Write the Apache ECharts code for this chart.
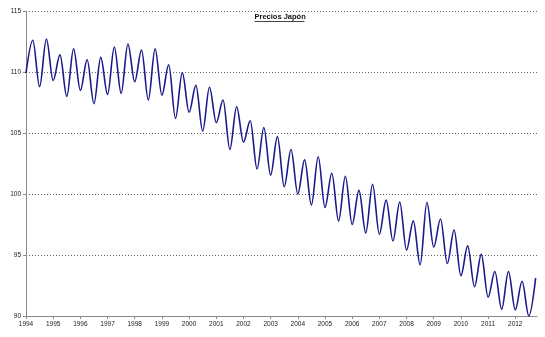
<!DOCTYPE html>
<html>
<head>
<meta charset="utf-8">
<title>Precios Japón</title>
<script src="https://cdn.jsdelivr.net/npm/echarts@6/dist/echarts.min.js"></script>
<style>
  html, body { margin: 0; padding: 0; background: #fff; }
  #chart { width: 545px; height: 337px; }
</style>
</head>
<body>
<div id="chart"></div>
<script>
// Quarterly price index, starting January 1994
const startYear = 1994;
const stepYears = 0.25;
const precios = [
  109.9, 112.6, 108.8, 112.7,
  109.3, 111.4, 108.0, 111.9,
  108.5, 111.0, 107.4, 111.2,
  108.15, 112.05, 108.25, 112.3,
  109.2, 111.8, 107.7, 111.9,
  108.1, 110.6, 106.2, 109.95,
  106.7, 108.9, 105.15, 108.75,
  105.85, 107.7, 103.65, 107.15,
  104.25, 106.0, 102.05, 105.45,
  101.55, 104.7, 100.6, 103.65,
  100.0, 102.8, 99.1, 103.05,
  98.9, 101.7, 97.8, 101.45,
  97.5, 100.3, 96.8, 100.8,
  96.7, 99.5, 96.15, 99.35,
  95.4, 97.8, 94.2, 99.3,
  95.65, 97.95, 94.3, 97.05,
  93.3, 95.75, 92.4, 95.05,
  91.55, 93.65, 90.55, 93.65,
  90.5, 92.85, 90.0, 93.1
];
const yearTicks = [1994, 1995, 1996, 1997, 1998, 1999, 2000, 2001, 2002, 2003,
                   2004, 2005, 2006, 2007, 2008, 2009, 2010, 2011, 2012];
const titleText = 'Precios Japón';

const points = precios.map((v, i) => [startYear + i * stepYears, v]);

const chart = echarts.init(document.getElementById('chart'), null, { renderer: 'canvas' });

const labelFont = { fontFamily: '"Liberation Sans", Arial, sans-serif', fontSize: 6.5, color: '#222' };

chart.setOption({
  animation: false,
  backgroundColor: '#ffffff',
  grid: { left: 26, right: 8, top: 11, bottom: 21, containLabel: false },
  xAxis: {
    type: 'value',
    min: 1994,
    max: 2012.8,
    axisLine: { show: true, lineStyle: { color: '#8a8a8a', width: 1 } },
    axisTick: { show: true, length: 3, lineStyle: { color: '#8a8a8a' }, customValues: yearTicks },
    axisLabel: Object.assign({ margin: 5, customValues: yearTicks, formatter: v => String(v) }, labelFont),
    splitLine: { show: false }
  },
  yAxis: {
    type: 'value',
    min: 90,
    max: 115,
    interval: 5,
    axisLine: { show: true, lineStyle: { color: '#8a8a8a', width: 1 } },
    axisTick: { show: true, length: 3, lineStyle: { color: '#8a8a8a' } },
    axisLabel: Object.assign({ margin: 5 }, labelFont),
    splitLine: { show: true, lineStyle: { color: '#666666', width: 1, type: [1, 2] } }
  },
  series: [{
    type: 'line',
    data: points,
    showSymbol: false,
    // horizontal tangents at each turning point give a wave-like curve
    smooth: 0.34,
    smoothMonotone: 'x',
    clip: true,
    lineStyle: { color: '#1a1a8c', width: 1.6 },
    itemStyle: { color: '#1a1a8c' }
  }],
  graphic: [{
    type: 'group',
    left: 252,
    top: 13,
    children: [
      {
        type: 'text',
        style: {
          text: titleText,
          x: 0, y: 0,
          fill: '#111',
          font: 'bold 7.5px "Liberation Sans", Arial, sans-serif'
        }
      },
      {
        type: 'line',
        shape: { x1: 0, y1: 8.5, x2: 50, y2: 8.5 },
        style: { stroke: '#111', lineWidth: 0.8 }
      }
    ]
  }]
});
</script>
</body>
</html>
